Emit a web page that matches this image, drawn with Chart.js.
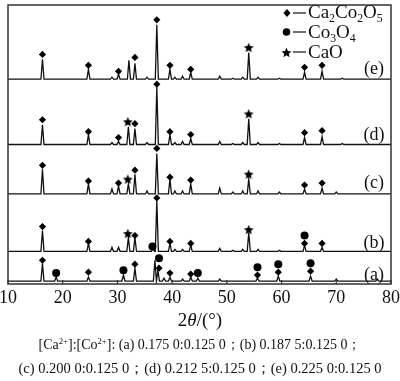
<!DOCTYPE html>
<html><head><meta charset="utf-8">
<script src="https://cdn.jsdelivr.net/npm/chart.js@4"></script>
<style>html,body{margin:0;padding:0;background:#fff}</style>
</head><body>
<canvas id="c" width="400" height="381"></canvas>
<script>
// ---- data ----
const xTicks = [10, 20, 30, 40, 50, 60, 70, 80];
const patternLabels = ['(a)', '(b)', '(c)', '(d)', '(e)'];
const patternOffsets = [3, 33, 91, 141, 207];   // vertical stacking offset of each pattern

const peaksA_theta  = [16.3, 18.8, 24.7, 31.1, 33.2, 36.85, 37.4, 38.5, 39.6, 41.9, 43.4, 44.7, 48.7, 55.6, 59.4, 65.3, 70.0, 77.5];
const peaksA_height = [18,   4,    4,    6,    13,   21,    11,   3,    4,    2,    4,    3,    2,    3,    5,    5,    2,    2];

const peaksB_theta  = [16.3, 24.7, 29.0, 30.2, 32.0, 33.2, 36.5, 37.2, 39.6, 40.5, 41.9, 43.4, 48.7, 51.1, 52.9, 54.0, 55.7, 59.6, 64.2, 67.4];
const peaksB_height = [21,   8,    4,    4,    14,   14,   3,    51,   8,    2,    2,    6,    3,    1,    2,    19,   2,    1,    6,    4];

const peaksC_theta  = [16.3, 24.7, 29.0, 30.2, 32.0, 33.2, 35.4, 37.2, 39.6, 40.5, 41.9, 43.4, 48.7, 51.1, 52.9, 54.0, 55.7, 59.6, 64.2, 67.4, 70.0];
const peaksC_height = [25,   10,   5,    8,    10,   20,   3,    41,   15,   3,    3,    10,   6,    2,    3,    15,   3,    2,    5,    6,    2];

const peaksD_theta  = [16.3, 24.7, 29.0, 30.2, 32.0, 33.2, 35.4, 37.2, 39.6, 40.5, 41.9, 43.4, 48.7, 51.1, 52.9, 54.0, 55.7, 59.6, 64.2, 67.4, 71.1];
const peaksD_height = [20,   10,   2,    3,    18,   16,   2,    58,   10,   2,    3,    6,    3,    1,    2,    26,   2,    1,    7,    8,    1];

const peaksE_theta  = [16.3, 24.7, 29.0, 30.2, 32.1, 33.2, 35.4, 37.2, 39.6, 40.5, 41.9, 43.4, 48.7, 51.1, 52.9, 54.0, 55.7, 59.6, 64.2, 67.4, 71.1];
const peaksE_height = [20,   10,   2,    5,    19,   16,   2,    55,   10,   2,    3,    7,    3,    1,    2,    27,   2,    1,    7,    8,    1];

// phase markers [2θ, y]
const markCa2Co2O5 = [
  [16.3,24],[24.7,12],[33.2,20],[37.6,16],[39.6,11],[43.4,10],[55.6,9],[59.4,12],[65.3,13],
  [16.3,58],[24.7,43],[33.2,49],[37.2,87],[39.6,43],[43.4,41],[64.2,41],[67.4,41],
  [16.3,120],[24.7,104],[30.2,102],[33.2,115],[37.2,137],[39.6,108],[43.4,105],[64.2,100],[67.4,102],
  [16.3,166],[24.7,154],[30.2,148],[33.2,162],[37.2,202],[39.6,154],[43.4,151],[64.2,153],[67.4,155],
  [16.3,232],[24.7,221],[30.2,215],[33.2,229],[37.2,267],[39.6,221],[43.4,217],[64.2,219],[67.4,221]
];
const markCo3O4 = [
  [18.8,11],[31.1,14],[37.6,26],[44.7,11],[55.6,17],[59.4,20],[65.3,21],
  [36.4,38],[64.2,49]
];
const markCaO = [
  [31.9,51],[54.0,55],
  [31.9,106],[54.0,111],
  [31.9,164],[54.0,172],
  [54.0,239]
];

const legendNames = [
  [['Ca'],['2','sub'],['Co'],['2','sub'],['O'],['5','sub']],
  [['Co'],['3','sub'],['O'],['4','sub']],
  [['CaO']]
];
const xTitle = [['2'],['θ','it'],['/(°)']];
const caption1 = [['[Ca'],['2+','sup'],[']:[Co'],['2+','sup'],[']: (a) 0.175 0:0.125 0；(b) 0.187 5:0.125 0；']];
const caption2 = [['(c) 0.200 0:0.125 0；(d) 0.212 5:0.125 0；(e) 0.225 0:0.125 0']];

// ---- build line tables from the peak lists ----
const HALF = 0.28;
function pattern(thetas, heights, off) {
  const pts = [{x: 10, y: off}];
  thetas.forEach((t, i) => {
    pts.push({x: t - HALF, y: off});
    pts.push({x: t, y: off + heights[i]});
    pts.push({x: t + HALF, y: off});
  });
  pts.push({x: 80, y: off});
  return pts;
}
const patterns = [
  pattern(peaksA_theta, peaksA_height, patternOffsets[0]),
  pattern(peaksB_theta, peaksB_height, patternOffsets[1]),
  pattern(peaksC_theta, peaksC_height, patternOffsets[2]),
  pattern(peaksD_theta, peaksD_height, patternOffsets[3]),
  pattern(peaksE_theta, peaksE_height, patternOffsets[4])
];
const toXY = a => a.map(p => ({x: p[0], y: p[1]}));

// filled five-point star image for CaO
function starImage(r) {
  const c = document.createElement('canvas');
  const s = Math.ceil(r * 2 + 2);
  c.width = s; c.height = s;
  const g = c.getContext('2d');
  g.fillStyle = '#000';
  g.beginPath();
  for (let i = 0; i < 10; i++) {
    const rr = i % 2 === 0 ? r : r * 0.45;
    const a = -Math.PI / 2 + i * Math.PI / 5;
    const px = s / 2 + rr * Math.cos(a), py = s / 2 + rr * Math.sin(a) + 0.5;
    i === 0 ? g.moveTo(px, py) : g.lineTo(px, py);
  }
  g.closePath(); g.fill();
  return c;
}
const STAR = starImage(5.2);

const SERIF = '"Liberation Serif", "Times New Roman", serif';

function drawRich(ctx, segs, x, y, size, align) {
  const parts = segs.map(s => {
    const kind = s[1] || '';
    const fs = (kind === 'sub' || kind === 'sup') ? size * 0.62 : size;
    const font = (kind === 'it' ? 'italic ' : '') + fs + 'px ' + SERIF;
    ctx.font = font;
    return {t: s[0], font, w: ctx.measureText(s[0]).width,
            dy: kind === 'sub' ? size * 0.22 : (kind === 'sup' ? -size * 0.38 : 0)};
  });
  const total = parts.reduce((a, p) => a + p.w, 0);
  let cx = align === 'center' ? x - total / 2 : x;
  ctx.textAlign = 'left';
  ctx.textBaseline = 'alphabetic';
  parts.forEach(p => { ctx.font = p.font; ctx.fillText(p.t, cx, y + p.dy); cx += p.w; });
}

const decor = {
  id: 'decor',
  afterDraw(chart) {
    const ctx = chart.ctx, a = chart.chartArea, xs = chart.scales.x;
    ctx.save();
    // frame
    ctx.strokeStyle = '#333'; ctx.lineWidth = 1.5;
    ctx.strokeRect(a.left, a.top, a.right - a.left, a.bottom - a.top);
    // inward ticks
    ctx.lineWidth = 1.2;
    xTicks.forEach(v => {
      const px = xs.getPixelForValue(v);
      ctx.beginPath(); ctx.moveTo(px, a.bottom); ctx.lineTo(px, a.bottom - 4); ctx.stroke();
    });
    ctx.fillStyle = '#111';
    // pattern labels
    ctx.font = '18px ' + SERIF; ctx.textAlign = 'center'; ctx.textBaseline = 'middle';
    const labelY = [9, 41, 102, 150, 217];
    patternLabels.forEach((t, i) => ctx.fillText(t, 374, chart.scales.y.getPixelForValue(labelY[i])));
    // legend
    const rows = [13, 32, 52], base = [18, 38, 58];
    ctx.strokeStyle = '#111'; ctx.lineWidth = 1.2;
    rows.forEach((ry, i) => {
      ctx.beginPath(); ctx.moveTo(293, ry); ctx.lineTo(306, ry); ctx.stroke();
      ctx.fillStyle = '#000';
      if (i === 0) { ctx.beginPath(); ctx.moveTo(287, ry - 4); ctx.lineTo(290.5, ry); ctx.lineTo(287, ry + 4); ctx.lineTo(283.5, ry); ctx.closePath(); ctx.fill(); }
      if (i === 1) { ctx.beginPath(); ctx.arc(286.5, ry, 3.8, 0, Math.PI * 2); ctx.fill(); }
      if (i === 2) { ctx.drawImage(STAR, Math.round(286.5 - STAR.width / 2), Math.round(ry - STAR.height / 2)); }
      ctx.fillStyle = '#111';
      drawRich(ctx, legendNames[i], 308, base[i], 19, 'left');
    });
    // axis title and caption
    drawRich(ctx, xTitle, 200, 326, 19, 'center');
    drawRich(ctx, caption1, 200, 349, 14, 'center');
    drawRich(ctx, caption2, 200, 373, 14.5, 'center');
    ctx.restore();
  }
};

const lineSets = patterns.map((d, i) => ({
  type: 'line', label: patternLabels[i], data: d,
  borderColor: '#111', borderWidth: 1.3, pointRadius: 0, tension: 0, fill: false, order: 2
}));
const markSets = [
  {type: 'scatter', label: 'Ca2Co2O5', data: toXY(markCa2Co2O5), pointStyle: 'rectRot', pointRadius: 3.6, backgroundColor: '#000', borderColor: '#000', borderWidth: 0, order: 1},
  {type: 'scatter', label: 'Co3O4', data: toXY(markCo3O4), pointStyle: 'circle', pointRadius: 4, backgroundColor: '#000', borderColor: '#000', borderWidth: 0, order: 1},
  {type: 'scatter', label: 'CaO', data: toXY(markCaO), pointStyle: STAR, order: 1}
];

new Chart(document.getElementById('c'), {
  data: {datasets: [...lineSets, ...markSets]},
  options: {
    responsive: false, animation: false, devicePixelRatio: 1,
    layout: {padding: {top: 2, left: 8, right: 9, bottom: 72}},
    plugins: {legend: {display: false}, tooltip: {enabled: false}},
    scales: {
      x: {type: 'linear', min: 10, max: 80,
          afterBuildTicks: s => { s.ticks = xTicks.map(v => ({value: v})); },
          afterFit: s => { s.height = 25; s.paddingLeft = 0; s.paddingRight = 0; },
          ticks: {font: {family: SERIF, size: 18}, color: '#111', padding: 3, maxRotation: 0, autoSkip: false},
          grid: {display: false, drawTicks: false}, border: {display: false}},
      y: {type: 'linear', min: 0, max: 282, display: false}
    }
  },
  plugins: [decor]
});
</script>
</body></html>
